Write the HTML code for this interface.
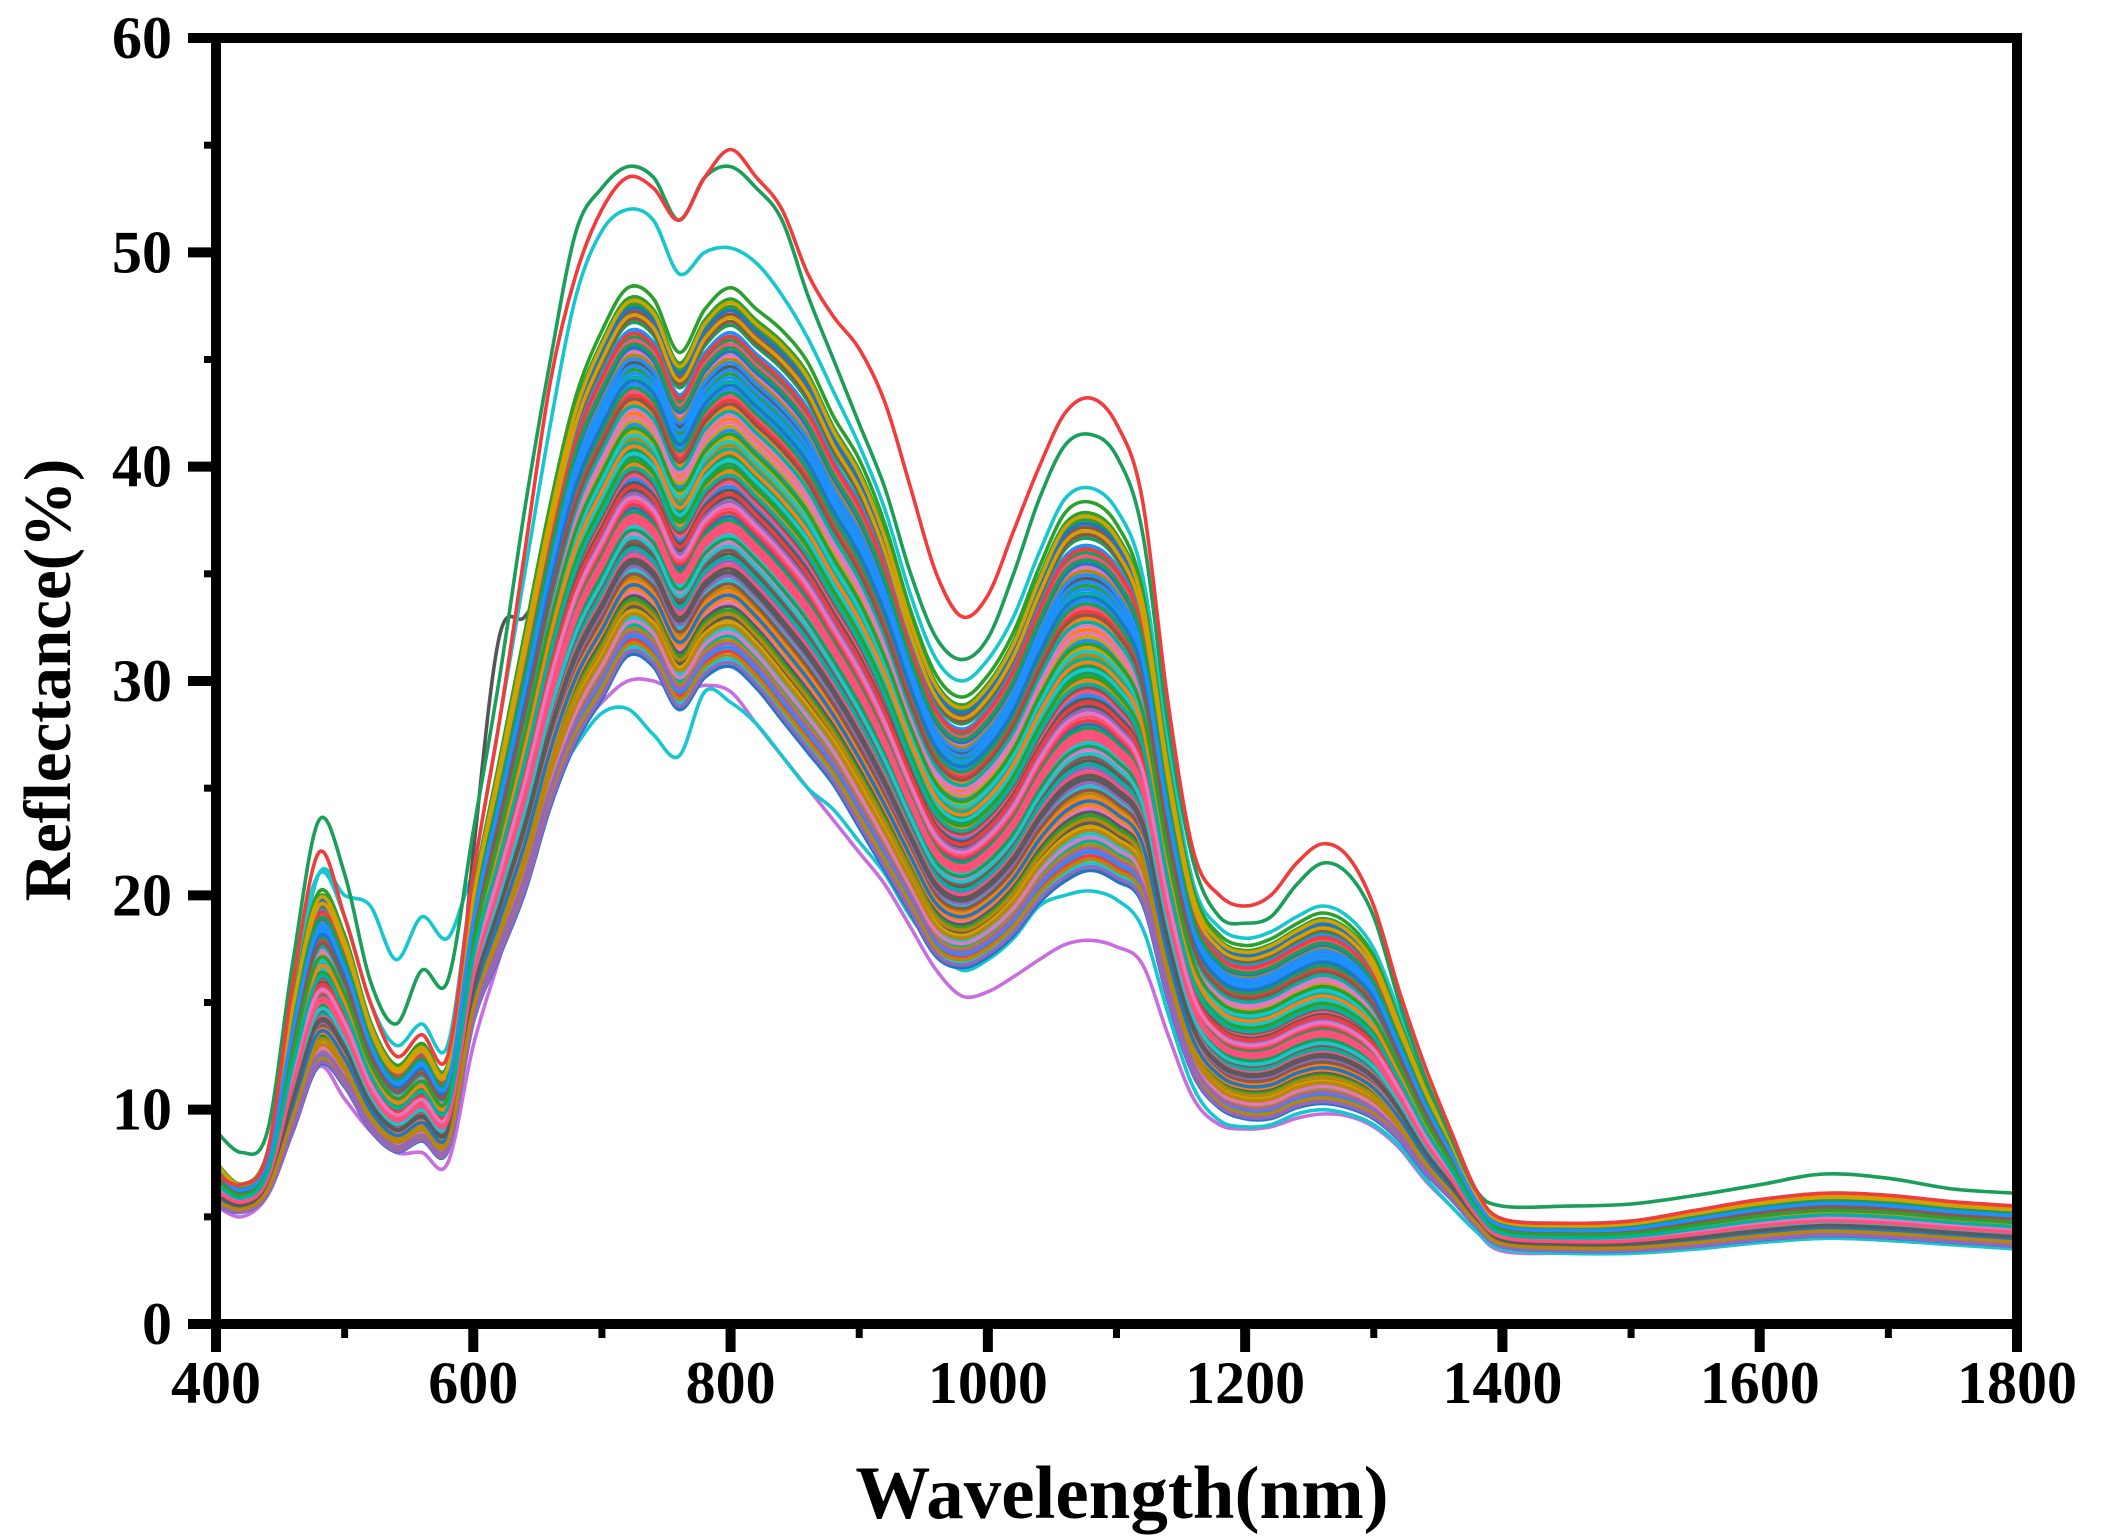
<!DOCTYPE html>
<html><head><meta charset="utf-8"><style>
html,body{margin:0;padding:0;background:#fff;}
svg{display:block;font-family:"Liberation Serif",serif;font-weight:bold;}
</style></head><body>
<svg id="chart" width="2105" height="1540" viewBox="0 0 2105 1540" xmlns="http://www.w3.org/2000/svg">
<g id="curves"></g>
<g id="axes"></g>
<text x="1122" y="1518" font-size="75" text-anchor="middle">Wavelength(nm)</text>
<text transform="translate(70,680) rotate(-90)" font-size="67" text-anchor="middle">Reflectance(%)</text>
</svg>
<script>
const wavelengths=[400,420,440,460,480,500,520,540,560,580,600,620,640,660,680,700,720,740,760,780,800,820,840,860,880,900,920,940,960,980,1000,1020,1040,1060,1080,1100,1120,1140,1160,1180,1200,1220,1240,1260,1280,1300,1320,1340,1360,1380,1400,1450,1500,1550,1600,1650,1700,1750,1800];
const highCurve=[7.5,6.5,8,15,20,18,14,12,13,12,20,26,32,38,43,46,48,47.5,45,47,48,47,46,44.5,42,40,37,33,30,29,30,32,35,37.5,38,37,34,26,20,18,17.5,17.8,18.5,19,18.5,17,14,11,8.5,6,4.8,4.6,4.7,5.2,5.7,6,5.9,5.6,5.4];
const lowCurve=[5.5,5.2,6,9,12,11,9,8,8.5,8,14,17,20,24,27,29,31,30.5,28.5,30,30.5,29.5,28,26.5,25,23,21,19,17,16.5,17,18,19.5,20.5,21,20.5,19.5,15,11.5,10,9.5,9.5,10,10.2,10,9.5,8.5,7,5.8,4.5,3.6,3.4,3.4,3.6,3.9,4.1,4,3.8,3.6];
const redTop=[7,6.5,8,16,22,19,15,12.5,13.5,12.5,21,28,36,44,49,52,53.5,53,51.5,53.5,54.8,53.5,52,49,47,45.5,43,39,35,33,34,37,40,42.5,43.2,42,38.5,29,22,20,19.5,20,21.5,22.4,21.8,19.5,15.5,12,9,6.2,4.9,4.7,4.8,5.3,5.8,6.1,6,5.7,5.5];
const greenTop=[9,8,9,17,23.5,21,16,14,16.5,16,23,30,38,45,51,53,54,53.5,51.5,53.5,54,53,51.5,48,45,42,39,35,32,31,32,35,38.5,41,41.5,40.5,37,28,21.5,19,18.7,19,20.5,21.5,21,19,15,11.5,8.7,6.2,5.5,5.5,5.6,6,6.5,7,6.8,6.3,6.1];
const cyanHigh=[7,6,8,16,21,19,15,13,14,13,21,28,35,42,48,51,52,51.5,49,50,50.2,49.5,48,46,43.5,41,38,34,31,30,31,33,36,38.5,39,38,35,27,20.5,18.5,18,18.3,19,19.5,19,17.5,14.5,11.3,8.7,6.1,4.9,4.7,4.8,5.3,5.8,6.1,6,5.7,5.5];
const cyanOdd=[6,5.5,8,15,21,20,19.5,17,19,18,21,22,23,25,27,28.5,28.7,27.5,26.5,29.5,29,28,26.5,25,24,22.5,21,19,17.5,16.5,17,18,19.5,20,20.2,19.8,18.5,14.5,11,9.5,9.2,9.3,9.8,10,9.8,9.3,8.3,6.8,5.5,4.3,3.5,3.3,3.3,3.5,3.8,4,3.9,3.7,3.5];
const violetLow=[5.5,5,6,9,12,10.5,9,8,8,7.5,13,17,21,25,27.5,29,30,30,29.5,29.8,29.5,28,26.5,25,23.5,22,20.5,18.5,16.5,15.3,15.5,16.2,17,17.7,17.9,17.6,16.8,13.5,10.5,9.3,9.1,9.2,9.6,9.8,9.7,9.2,8.2,6.7,5.5,4.3,3.4,3.3,3.3,3.5,3.8,4,3.9,3.7,3.5];
const grayOdd=[6,5.5,7,13,17,15,12,10,10.5,10,22,32,33,35,38,40,41,40.5,38.5,40,40.5,39.5,38,36.5,34.5,32.5,30,27,24.5,23.5,24,25.5,27.5,29,29.5,29,27,21,16,14,13.5,13.6,14.2,14.6,14.2,13.2,11,8.8,7,5.2,4.1,3.9,3.9,4.2,4.6,4.8,4.7,4.5,4.3];
const blendFactors=[0.05,0.92,0.33,0.71,0.15,0.58,0.84,0.27,0.46,0.99,0.1,0.64,0.38,0.77,0.22,0.52,0.88,0.03,0.69,0.41,0.95,0.18,0.6,0.31,0.8,0.12,0.49,0.73,0.26,0.9,0.07,0.55,0.36,0.67,0.2,0.86,0.44,0.62,0.14,0.97,0.29,0.75,0.5,0.09,0.83,0.39,0.57,0.24,0.7,0.01,0.93,0.34,0.65,0.17,0.79,0.47,0.06,0.87,0.3,0.6,0.42,0.74,0.11,0.53,0.96,0.23,0.68,0.37,0.81,0.16,0.45,0.9,0.28,0.63,0.08,0.72,0.4,0.56,0.19,0.85,0.32,0.66,0.13,0.48,1.02,0.25,0.78,0.43,0.59,0.04,0.89,0.35,0.61,0.21,0.76,0.51,0.1,0.94,0.27,0.54,0.02,0.82,0.39,0.69,0.15,0.47,0.86,0.33,0.58,0.2,0.71,0.44,0.98,0.26,0.63,0.07,0.8,0.37,0.52,0.12];
const palette=["#f23c3c","#1a9e5a","#17c7d0","#ff7f0e","#1f77c4","#8c564b","#e377c2","#d4a000","#5a5a5a","#2ca02c","#9467bd","#1e90ff","#ff4f7b","#00b3a0","#b8860b"];
const xTicks=[400,600,800,1000,1200,1400,1600,1800];
const yTicks=[0,10,20,30,40,50,60];

const L=216,R=2017,T=38,B=1324;
const NS="http://www.w3.org/2000/svg";
function xs(w){return L+(w-400)/1400*(R-L);}
function ys(v){return B-v/60*(B-T);}
function mk(tag,attrs,parent){const e=document.createElementNS(NS,tag);for(const k in attrs)e.setAttribute(k,attrs[k]);parent.appendChild(e);return e;}
function pathFor(vals){
  const p=vals.map((v,i)=>[xs(wavelengths[i]),ys(v)]);
  let d="M"+p[0][0].toFixed(1)+","+p[0][1].toFixed(1);
  for(let i=0;i<p.length-1;i++){
    const p0=p[Math.max(0,i-1)],p1=p[i],p2=p[i+1],p3=p[Math.min(p.length-1,i+2)];
    const c1x=p1[0]+(p2[0]-p0[0])/6,c1y=p1[1]+(p2[1]-p0[1])/6;
    const c2x=p2[0]-(p3[0]-p1[0])/6,c2y=p2[1]-(p3[1]-p1[1])/6;
    d+="C"+c1x.toFixed(1)+","+c1y.toFixed(1)+" "+c2x.toFixed(1)+","+c2y.toFixed(1)+" "+p2[0].toFixed(1)+","+p2[1].toFixed(1);
  }
  return d;
}
const cg=document.getElementById("curves");
const ax=document.getElementById("axes");
function addCurve(vals,color,name){
  const p=mk("path",{d:pathFor(vals),fill:"none",stroke:color,"stroke-width":3.6,"stroke-linejoin":"round"},cg);
  
  
}
addCurve(violetLow,"#c86ee0","spectrum-violet-low");
addCurve(cyanOdd,"#17c7d0","spectrum-cyan-outlier");
addCurve(grayOdd,"#555555","spectrum-gray-outlier");
addCurve(cyanHigh,"#17c7d0","spectrum-cyan-high");
blendFactors.forEach((f,k)=>{
  const vals=lowCurve.map((lo,i)=>lo+f*(highCurve[i]-lo));
  addCurve(vals,palette[k%palette.length],"spectrum-"+(k+1));
});
addCurve(greenTop,"#1a9e5a","spectrum-green-top");
addCurve(redTop,"#f23c3c","spectrum-red-top");

const fr=mk("rect",{x:L,y:T,width:R-L,height:B-T,fill:"none",stroke:"#000","stroke-width":10},ax);


xTicks.forEach(t=>{
  const x=xs(t);
  const l=mk("line",{x1:x,y1:B,x2:x,y2:B+28,stroke:"#000","stroke-width":10},ax);
  
  
  const tx=mk("text",{x:x,y:B+79,"font-size":60,"text-anchor":"middle"},ax);
  tx.textContent=t;
  
  
});
for(let t=500;t<1800;t+=200){
  const x=xs(t);
  const l=mk("line",{x1:x,y1:B,x2:x,y2:B+14,stroke:"#000","stroke-width":7},ax);
  
  
}
yTicks.forEach(t=>{
  const y=ys(t);
  const l=mk("line",{x1:L-28,y1:y,x2:L,y2:y,stroke:"#000","stroke-width":10},ax);
  
  
  const tx=mk("text",{x:L-44,y:y+20,"font-size":60,"text-anchor":"end"},ax);
  tx.textContent=t;
  
  
});
for(let t=5;t<60;t+=10){
  const y=ys(t);
  const l=mk("line",{x1:L-12,y1:y,x2:L,y2:y,stroke:"#000","stroke-width":7},ax);
  
  
}
</script>
</body></html>
